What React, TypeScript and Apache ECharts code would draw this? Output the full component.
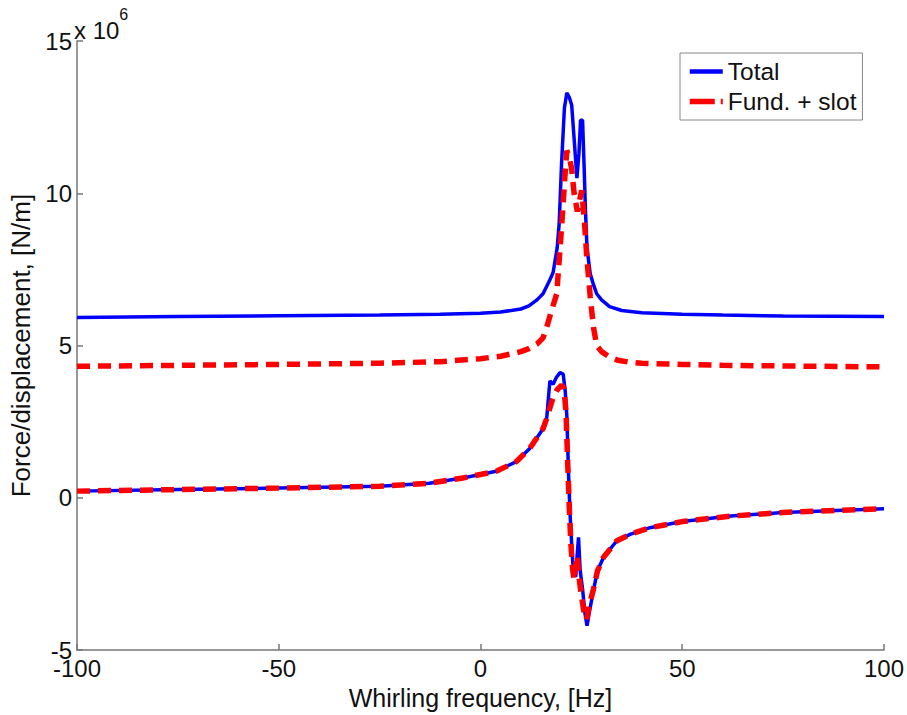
import React, { useEffect, useRef } from "react";
import * as echarts from "echarts";

const xTicks = [-100, -50, 0, 50, 100];
const yTicks = [-5, 0, 5, 10, 15];

const totalMagX = [-100, -75, -50, -25, -10, 0, 5, 10, 12, 14, 15.5, 17, 18, 19, 19.5, 20.1, 20.8, 21.4, 22.0, 22.6, 23.2, 23.9, 24.4, 24.8, 25.3, 25.7, 26.0, 26.4, 27.2, 28, 28.8, 30, 32, 35, 40, 50, 60, 75, 100];
const totalMagY = [5.92, 5.95, 5.98, 6.0, 6.03, 6.06, 6.1, 6.2, 6.3, 6.5, 6.7, 7.1, 7.4, 8.2, 9.0, 11.0, 12.8, 13.3, 13.15, 12.9, 11.8, 10.5, 11.3, 12.4, 12.4, 10.8, 9.5, 8.2, 7.36, 7.0, 6.7, 6.5, 6.28, 6.15, 6.08, 6.03, 6.0, 5.97, 5.95];

const fundMagX = [-100, -75, -50, -25, -10, 0, 5, 10, 12, 14, 15.5, 16.4, 17.5, 18.9, 20.1, 21, 21.4, 22, 22.6, 23.2, 24, 24.6, 25.1, 25.8, 26.4, 27.2, 28, 28.8, 30, 32, 34, 37, 40, 50, 60, 75, 100];
const fundMagY = [4.32, 4.35, 4.38, 4.42, 4.47, 4.57, 4.65, 4.8, 4.9, 5.05, 5.25, 5.6, 6.1, 6.7, 8.9, 10.7, 11.4, 11.2, 10.8, 10.0, 9.4, 9.8, 10.1, 9.0, 7.8, 6.6, 5.6, 5.0, 4.8, 4.62, 4.52, 4.45, 4.42, 4.38, 4.35, 4.33, 4.3];

const totalReX = [-100, -75, -50, -25, -12.7, -4.4, 3.9, 8.9, 12.2, 15.5, 16.4, 17.2, 18, 18.8, 19.7, 20.5, 21, 21.4, 21.8, 22.2, 22.6, 23.0, 23.6, 24.0, 24.3, 24.7, 25.3, 25.9, 26.4, 27.2, 28, 29, 30.5, 33.8, 37.2, 42, 50, 62, 75, 100];
const totalReY = [0.22, 0.27, 0.32, 0.38, 0.48, 0.65, 0.87, 1.19, 1.62, 2.27, 2.6, 3.84, 3.73, 3.95, 4.11, 4.06, 3.5, 2.7, 0.87, -0.54, -1.52, -2.38, -2.6, -1.8, -1.3, -2.38, -3.0, -3.8, -4.2, -3.6, -3.03, -2.4, -1.95, -1.41, -1.19, -0.98, -0.78, -0.6, -0.48, -0.36];

const fundReX = [-100, -75, -50, -25, -12.7, -4.4, 3.9, 8.9, 12.2, 15.5, 16.4, 17.2, 18, 19, 20.1, 20.7, 21.2, 21.6, 22.0, 22.4, 22.8, 23.2, 23.6, 24.0, 24.4, 25, 25.7, 26.3, 27, 28, 29, 30.5, 33.8, 37.2, 42, 50, 62, 75, 100];
const fundReY = [0.22, 0.27, 0.32, 0.38, 0.48, 0.65, 0.87, 1.19, 1.62, 2.27, 2.6, 2.95, 3.3, 3.55, 3.7, 3.6, 2.8, 1.2, -0.3, -1.5, -2.3, -2.7, -2.2, -1.9, -2.6, -3.2, -3.8, -4.0, -3.5, -3.0, -2.4, -1.95, -1.41, -1.19, -0.98, -0.78, -0.6, -0.48, -0.36];

const zip = (xs: number[], ys: number[]) => xs.map((x, i) => [x, ys[i]]);

export default function App() {
  const ref = useRef<HTMLDivElement>(null);
  useEffect(() => {
    if (!ref.current) return;
    const chart = echarts.init(ref.current, null, { renderer: "svg" });
    const font = "Liberation Sans, Arial, sans-serif";
    const blue = { type: "line", name: "Total", showSymbol: false, symbol: "none", lineStyle: { color: "#0000ff", width: 3.5 }, itemStyle: { color: "#0000ff" } };
    const red = { type: "line", name: "Fund. + slot", showSymbol: false, symbol: "none", lineStyle: { color: "#ff0000", width: 5.5, type: [13, 8] }, itemStyle: { color: "#ff0000" } };
    chart.setOption({
      animation: false,
      backgroundColor: "#ffffff",
      textStyle: { fontFamily: font },
      grid: { left: 76, right: 22, top: 41, bottom: 61 },
      legend: {
        data: [
          { name: "Total", lineStyle: { width: 4.5 } },
          { name: "Fund. + slot", lineStyle: { width: 5.5, type: [25, 6] } },
        ],
        orient: "vertical",
        left: 680,
        top: 53,
        backgroundColor: "#ffffff",
        borderColor: "#888888",
        borderWidth: 1,
        borderRadius: 0,
        padding: [6, 6, 6, 7],
        itemGap: 5,
        itemWidth: 33,
        itemHeight: 14,
        itemStyle: { opacity: 0 },
        textStyle: { fontSize: 24.5, color: "#111", fontFamily: font },
      },
      xAxis: {
        type: "value",
        min: -100,
        max: 100,
        interval: 50,
        name: "Whirling frequency, [Hz]",
        nameLocation: "middle",
        nameGap: 29,
        nameTextStyle: { fontSize: 25, color: "#111", fontFamily: font },
        axisLine: { onZero: false, lineStyle: { color: "#777", width: 1.5 } },
        axisTick: { inside: true, length: 6, lineStyle: { color: "#777", width: 1.5 } },
        axisLabel: { fontSize: 24, color: "#111", margin: 6, fontFamily: font, formatter: (v: number) => (xTicks.includes(v) ? String(v) : "") },
        splitLine: { show: false },
      },
      yAxis: {
        type: "value",
        min: -5,
        max: 15,
        interval: 5,
        name: "Force/displacement, [N/m]",
        nameLocation: "middle",
        nameGap: 43,
        nameTextStyle: { fontSize: 26, color: "#111", fontFamily: font },
        axisLine: { onZero: false, lineStyle: { color: "#777", width: 1.5 } },
        axisTick: { inside: true, length: 6, lineStyle: { color: "#777", width: 1.5 } },
        axisLabel: { fontSize: 24, color: "#111", margin: 5, fontFamily: font, formatter: (v: number) => (yTicks.includes(v) ? String(v) : "") },
        splitLine: { show: false },
      },
      graphic: [
        {
          type: "text",
          left: 74,
          top: 6,
          style: {
            text: "{a|x 10}{b|6}",
            rich: {
              a: { fontSize: 24, fill: "#111", fontFamily: font, verticalAlign: "bottom", padding: [12, 0, 0, 0] },
              b: { fontSize: 16, fill: "#111", fontFamily: font, verticalAlign: "top" },
            },
          },
        },
      ],
      series: [
        { ...blue, data: zip(totalMagX, totalMagY) },
        { ...blue, data: zip(totalReX, totalReY) },
        { ...red, data: zip(fundMagX, fundMagY) },
        { ...red, data: zip(fundReX, fundReY) },
      ],
    });
    return () => chart.dispose();
  }, []);
  return <div ref={ref} style={{ width: 907, height: 715, position: "absolute", left: 0, top: 0 }} />;
}
